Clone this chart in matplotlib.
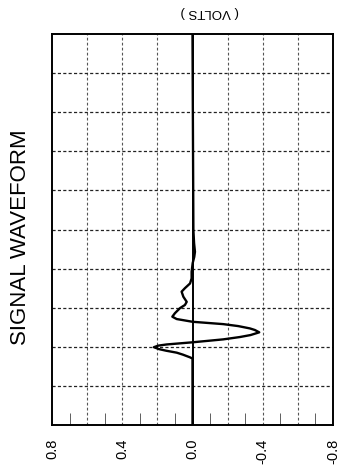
import matplotlib
matplotlib.use("Agg")
import matplotlib.pyplot as plt

plt.rcParams['font.family'] = ['Liberation Sans', 'DejaVu Sans']

# Data (time in grid divisions, voltage in volts)
time_div = [0.0, 1.70, 1.73, 1.80, 1.85, 1.90, 1.94, 1.99, 2.03, 2.06, 2.115,
            2.19, 2.25, 2.30, 2.37, 2.43, 2.47, 2.53, 2.58, 2.64, 2.71, 2.77,
            2.86, 2.99, 3.07, 3.15, 3.28, 3.41, 3.50, 3.62, 3.75, 3.92, 4.14,
            4.30, 4.43, 4.65, 4.99, 10.0]
volts = [0.0, 0.0, 0.014, 0.055, 0.090, 0.150, 0.190, 0.220, 0.195, 0.147, 0.0,
         -0.175, -0.270, -0.330, -0.380, -0.355, -0.327, -0.260, -0.175, 0.0, 0.090, 0.115,
         0.100, 0.071, 0.043, 0.033, 0.052, 0.062, 0.043, 0.014, 0.005, 0.005, -0.001,
         -0.010, -0.014, -0.009, -0.005, 0.0]

volt_ticks = [0.8, 0.4, 0.0, -0.4, -0.8]
volt_labels = ["0.8", "0.4", "0.0", "-0.4", "-0.8"]
minor_ticks = [0.7, 0.5, 0.3, 0.1, -0.1, -0.3, -0.5, -0.7]
grid_volts = [0.6, 0.4, 0.2, -0.2, -0.4, -0.6]
title = "SIGNAL WAVEFORM"
unit = "( VOLTS )"

fig = plt.figure(figsize=(3.4, 4.68), dpi=100)
ax = fig.add_axes([52/340, 1-425/468, 281/340, 391/468])

ax.set_xlim(0.8, -0.8)
ax.set_ylim(0, 10)

# grid
for v in grid_volts:
    ax.axvline(v, color='#555555', lw=0.8, dashes=(2.5, 2))
for t in range(1, 10):
    ax.axhline(t, color='#222222', lw=0.9, dashes=(2.5, 1.8))
ax.axvline(0.0, color='black', lw=1.4)

ax.plot(volts, time_div, color='black', lw=1.7, solid_joinstyle='round')

ax.set_xticks(volt_ticks)
ax.set_xticklabels(volt_labels, rotation=90, fontsize=10.5)
ax.set_xticks(minor_ticks, minor=True)
ax.tick_params(axis='x', which='major', length=0, pad=10)
ax.tick_params(axis='x', which='minor', direction='in', length=9, width=0.6, color='#444444')
ax.set_yticks([])
for sp in ax.spines.values():
    sp.set_linewidth(1.4)

fig.text(21/340, 1-237/468, title, rotation=90, fontsize=16,
         ha='center', va='center')
fig.text(210/340, 1-12/468, unit, rotation=180, fontsize=9.5,
         ha='center', va='center')

fig.savefig("out.png", dpi=100)
